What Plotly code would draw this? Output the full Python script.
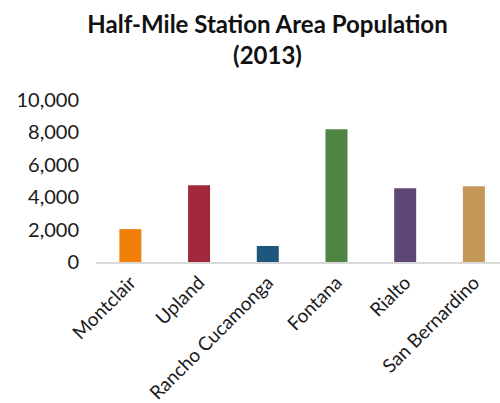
import plotly.graph_objects as go

# Station areas and their 2013 population within a half mile
stations = ["Montclair", "Upland", "Rancho Cucamonga", "Fontana", "Rialto", "San Bernardino"]
population = [2030, 4730, 990, 8190, 4550, 4670]
bar_colors = ["#F0800A", "#A0283A", "#1D587C", "#4E8542", "#5E4677", "#C39758"]

y_ticks = [0, 2000, 4000, 6000, 8000, 10000]

FONT = "Lato"

fig = go.Figure(
    go.Bar(
        x=stations,
        y=population,
        marker=dict(color=bar_colors, line=dict(width=0)),
        width=0.32,
    )
)

fig.update_layout(
    width=500,
    height=403,
    paper_bgcolor="white",
    plot_bgcolor="white",
    margin=dict(l=96, r=0, t=100, b=141),
    showlegend=False,
    font=dict(family=FONT, color="#1a1a1a"),
    title=dict(
        text="<b>Half-Mile Station Area Population<br>(2013)</b>",
        x=0.535,
        xanchor="center",
        yref="container",
        y=1 - 33 / 403,
        yanchor="middle",
        font=dict(family=FONT, size=24, color="#111111"),
    ),
    xaxis=dict(
        range=[-0.5, 5.38],
        showline=True,
        linecolor="#D9D9D9",
        linewidth=2,
        showgrid=False,
        ticks="",
        tickangle=-45,
        tickfont=dict(family=FONT, size=19, color="#1a1a1a"),
    ),
    yaxis=dict(
        range=[0, 10000],
        tickvals=y_ticks,
        tickformat=",d",
        showgrid=False,
        zeroline=False,
        showline=False,
        ticks="",
        ticklabelstandoff=16,
        tickfont=dict(family=FONT, size=20, color="#1a1a1a"),
    ),
)

fig.write_html("out.html")
